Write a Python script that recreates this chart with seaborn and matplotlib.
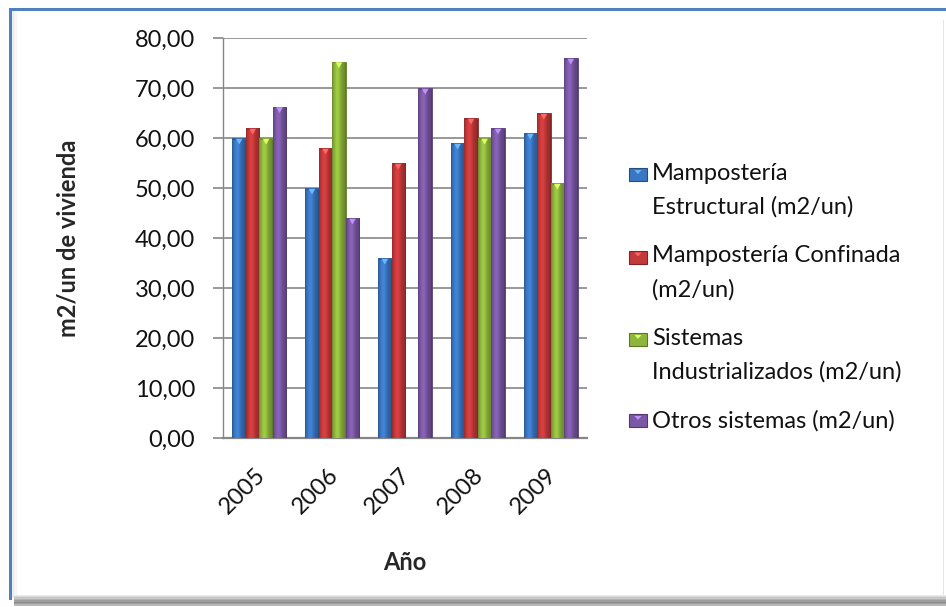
import numpy as np
import pandas as pd
import matplotlib
matplotlib.use("Agg")
import matplotlib.pyplot as plt
import matplotlib.colors as mcolors
from matplotlib.patches import Rectangle, Polygon
from matplotlib.ticker import FuncFormatter, MultipleLocator
from matplotlib.transforms import ScaledTranslation
from matplotlib.legend_handler import HandlerPatch
import seaborn as sns

# ---- data -------------------------------------------------------------
years = ["2005", "2006", "2007", "2008", "2009"]
estructural = [60.0, 50.0, 36.0, 59.0, 61.0]
confinada = [62.0, 58.0, 55.0, 64.0, 65.0]
industrializados = [60.0, 75.3, np.nan, 60.0, 51.0]
otros = [66.3, 44.0, 70.0, 62.0, 76.0]

series_names = [
    "Mampostería\nEstructural (m2/un)",
    "Mampostería Confinada\n(m2/un)",
    "Sistemas\nIndustrializados (m2/un)",
    "Otros sistemas (m2/un)",
]
series_values = [estructural, confinada, industrializados, otros]
colors = ["#3A76C2", "#C4393A", "#8FB63C", "#7B58A6"]

df = pd.DataFrame(
    [(y, name, v) for name, vals in zip(series_names, series_values)
     for y, v in zip(years, vals)],
    columns=["Año", "Sistema", "valor"],
).dropna()

# ---- figure -----------------------------------------------------------
W, H = 946, 607
sns.set_theme(style="white")
plt.rcParams["font.family"] = ["Lato", "DejaVu Sans"]

fig = plt.figure(figsize=(W / 100, H / 100), dpi=100)
fig.patch.set_facecolor("white")


def fx(px):
    return px / W


def fy(py):
    return 1 - py / H


ax = fig.add_axes([fx(223), fy(438), fx(587) - fx(223), fy(38) - fy(438)])

sns.barplot(
    data=df, x="Año", y="valor", hue="Sistema", order=years,
    hue_order=series_names, palette=colors, width=0.74, gap=0.0,
    saturation=1, legend=False, ax=ax, zorder=3,
)

ax.set_xlim(-0.5, len(years) - 0.5)
ax.set_ylim(0, 80)
ax.yaxis.set_major_locator(MultipleLocator(10))
ax.yaxis.set_major_formatter(FuncFormatter(lambda v, _: f"{v:.2f}".replace(".", ",")))

# gridlines and axes lines
grid_c = "#868686"
ax.grid(axis="y", color=grid_c, linewidth=1.2, zorder=0)
ax.set_axisbelow(True)
for side in ["top", "right"]:
    ax.spines[side].set_visible(False)
ax.spines["left"].set_color(grid_c)
ax.spines["left"].set_linewidth(1.0)
ax.spines["bottom"].set_color(grid_c)
ax.spines["bottom"].set_linewidth(1.6)
ax.tick_params(axis="y", length=7, width=1.2, color=grid_c, pad=13,
               labelsize=17, labelcolor="#111111", left=True)
ax.tick_params(axis="x", length=0, pad=19, labelsize=17, labelcolor="#111111")
shift = ScaledTranslation(-5 / 100, 0, fig.dpi_scale_trans)
for lab in ax.get_xticklabels():
    lab.set_rotation(45)
    lab.set_ha("right")
    lab.set_va("top")
    lab.set_rotation_mode("anchor")
    lab.set_transform(lab.get_transform() + shift)

ax.set_xlabel("Año", fontsize=17, fontweight="bold", labelpad=24)
ax.set_ylabel("m2/un de vivienda", fontsize=17, fontweight="bold", labelpad=40)

# shaded, bevelled bar faces
t = np.linspace(0, 1, 40)
profile = 0.78 + 0.34 * np.exp(-((t - 0.38) / 0.28) ** 2)
profile[:2] *= 0.9
profile[-3:] *= 0.85
for patch in list(ax.patches):
    h = patch.get_height()
    if not np.isfinite(h) or h <= 0:
        continue
    x0, y0, w = patch.get_x(), patch.get_y(), patch.get_width()
    base = np.array(mcolors.to_rgb(patch.get_facecolor()))
    img = np.clip(base[None, :] * profile[:, None], 0, 1)[None, :, :]
    im = ax.imshow(img, extent=[x0, x0 + w, y0, y0 + h], aspect="auto",
                   interpolation="bilinear", zorder=3.5)
    im.set_clip_path(patch)
    patch.set_edgecolor(tuple(base * 0.7))
    patch.set_linewidth(0.6)
    top = y0 + h
    cap = np.clip(base * 1.35 + 0.1, 0, 1)
    ax.add_patch(Polygon([[x0 + w * 0.25, top - 0.15], [x0 + w * 0.75, top - 0.15],
                          [x0 + w * 0.5, top - 1.3]], closed=True,
                         facecolor=cap, edgecolor="none", zorder=4))
    ax.add_patch(Rectangle((x0, top - 0.35), w, 0.35, facecolor=tuple(base * 0.8),
                           edgecolor="none", zorder=3.8))

ax.set_xlim(-0.5, len(years) - 0.5)
ax.set_ylim(0, 80)

# legend: swatch sits beside the first line of each (possibly wrapped) label
LEG_FS = 17
LINESP = 1.7


class FirstLineSwatch(HandlerPatch):
    def create_artists(self, legend, orig_handle, xdescent, ydescent,
                       width, height, fontsize, trans):
        nlines = getattr(orig_handle, "nlines", 1)
        step = LINESP * 0.85 * fontsize
        sw, sh = 0.76 * fontsize, 0.56 * fontsize
        y = 0.5 * (nlines - 1) * step + 0.02 * fontsize
        face = np.array(mcolors.to_rgb(orig_handle.get_facecolor()))
        rect = Rectangle((-xdescent, y), sw, sh, facecolor=face,
                         edgecolor=tuple(face * 0.65), linewidth=0.8, transform=trans)
        tri = Polygon([[-xdescent + sw * 0.3, y + sh * 0.85], [-xdescent + sw * 0.7, y + sh * 0.85],
                       [-xdescent + sw * 0.5, y + sh * 0.55]], closed=True,
                      facecolor=tuple(np.clip(face * 1.35 + 0.1, 0, 1)),
                      edgecolor="none", transform=trans)
        return [rect, tri]


handles = []
for c, name in zip(colors, series_names):
    r = Rectangle((0, 0), 1, 1, facecolor=c)
    r.nlines = name.count("\n") + 1
    handles.append(r)

leg = fig.legend(handles, series_names, loc="upper left",
                 bbox_to_anchor=(fx(629), fy(163)), frameon=False,
                 fontsize=LEG_FS, handlelength=0.76, handleheight=0.6,
                 handletextpad=0.22, labelspacing=1.17, borderaxespad=0,
                 borderpad=0, handler_map={Rectangle: FirstLineSwatch()})
for txt in leg.get_texts():
    txt.set_linespacing(LINESP)
    txt.set_color("#111111")

# chart-area frame: blue border top/left, soft shadow right/bottom
blue = "#4F81BD"
fig.patches.append(Rectangle((fx(9), fy(600)), fx(3), fy(8) - fy(600),
                             transform=fig.transFigure, facecolor=blue, edgecolor="none"))
fig.patches.append(Rectangle((fx(9), fy(11)), 1 - fx(9), fy(8) - fy(11),
                             transform=fig.transFigure, facecolor=blue, edgecolor="none"))
for i, g in enumerate([0.93, 0.95, 0.97, 0.985]):
    fig.patches.append(Rectangle((fx(12 + i * 1.5), fy(598)), fx(1.5), fy(11) - fy(598),
                                 transform=fig.transFigure, facecolor=(g, g, g), edgecolor="none"))
fig.patches.append(Rectangle((fx(943), fy(598)), fx(1.2), fy(20) - fy(598),
                             transform=fig.transFigure, facecolor="#E4E4E4", edgecolor="none"))
for i, g in enumerate([0.92, 0.85, 0.78, 0.7, 0.62, 0.55, 0.62, 0.72]):
    fig.patches.append(Rectangle((fx(14), fy(596 + i * 1.4)), 1 - fx(14), fx(1.4) * W / H,
                                 transform=fig.transFigure, facecolor=(g, g, g), edgecolor="none"))

fig.savefig("out.png", dpi=100, facecolor="white")
